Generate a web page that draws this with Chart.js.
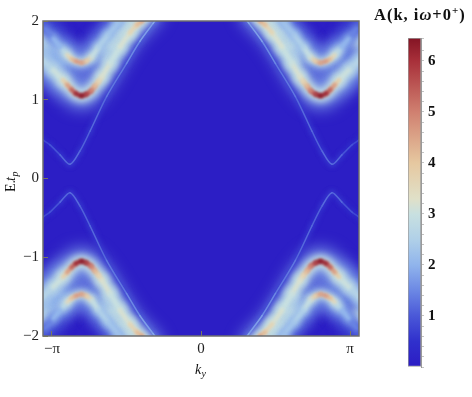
<!DOCTYPE html>
<html>
<head>
  <meta charset="UTF-8">
  <title>Spectral function</title>
  <script src="https://cdn.jsdelivr.net/npm/chart.js"></script>
  <style>
    body { margin: 0; background: #fff; }
    canvas { position: absolute; top: 0; }
    #map { left: 0; }
    #bar { left: 365px; }
  </style>
</head>
<body>
  <canvas id="map" width="365" height="397"></canvas>
  <canvas id="bar" width="107" height="397"></canvas>

  <script>
    // ridges of the upper left quadrant, the other three are mirrored
    const lowerK = [-3.5, -3.33, -3.12, -2.91, -2.82, -2.73, -2.64, -2.52, -2.42, -2.32, -2.24, -2.16, -2.09, -1.92, -1.71, -1.5, -1.35, -1.25, -1.1];
    const lowerE = [1.63, 1.5, 1.38, 1.25, 1.19, 1.13, 1.08, 1.05, 1.07, 1.11, 1.17, 1.23, 1.29, 1.46, 1.67, 1.85, 1.95, 2.0, 2.1];
    const lowerA = [2.4, 2.5, 2.7, 3.4, 4.2, 5.0, 5.8, 6.5, 6.2, 5.3, 4.5, 3.8, 3.4, 3.0, 3.0, 3.4, 3.9, 4.4, 4.6];

    const upperK = [-3.5, -3.29, -3.12, -2.91, -2.82, -2.73, -2.64, -2.52, -2.42, -2.31, -2.17, -1.96, -1.75, -1.6];
    const upperE = [2.1, 1.91, 1.78, 1.63, 1.57, 1.52, 1.49, 1.47, 1.49, 1.54, 1.66, 1.82, 1.97, 2.1];
    const upperA = [0.9, 1.2, 1.7, 2.4, 3.2, 3.9, 4.5, 4.8, 4.2, 3.3, 2.6, 2.4, 2.2, 2.2];

    const thinK = [-3.5, -3.33, -3.19, -2.97, -2.76, -2.55, -2.34, -1.99, -1.57, -1.29, -1.01, -0.85];
    const thinE = [0.6, 0.49, 0.43, 0.3, 0.18, 0.35, 0.6, 1.04, 1.46, 1.74, 1.97, 2.1];
    const thinA = [0.7, 0.75, 0.85, 1.0, 1.3, 1.1, 1.1, 1.25, 1.4, 1.6, 1.9, 1.9];

    // pale bands that join the two ridges on both sides of the arcs
    const rightArmK = [-2.0, -1.9, -1.63, -1.38];
    const rightArmE = [1.55, 1.7, 1.9, 2.1];
    const rightArmA = [1.8, 2.5, 2.8, 2.8];
    const leftArmK = [-3.5, -3.33, -3.12, -2.95];
    const leftArmE = [1.85, 1.72, 1.58, 1.46];
    const leftArmA = [2.6, 2.6, 2.4, 1.5];

    const yTicks = [-2, -1, 0, 1, 2];
    const xTicks = [-Math.PI, 0, Math.PI];
    const xLabels = ['−π', '0', 'π'];

    // colour scale
    const stopValues = [0, 0.5, 1, 1.5, 2, 2.5, 3, 3.3, 4, 5, 6, 6.45];
    const stopColors = ['#2c1cc4', '#3030cc', '#4a58d8', '#6c88e4', '#90b4ec', '#b0d0e8',
                        '#c8e0e0', '#e0e0c8', '#e6c8a0', '#d08070', '#a8303a', '#841424'];

    const serif = '"Liberation Serif", serif';

    function hexToRgb(h) {
      return [1, 3, 5].map(i => parseInt(h.substr(i, 2), 16));
    }

    function colorFor(v) {
      let i = 0;
      while (i < stopValues.length - 2 && v > stopValues[i + 1]) i++;
      const t = Math.min(1, Math.max(0, (v - stopValues[i]) / (stopValues[i + 1] - stopValues[i])));
      const a = hexToRgb(stopColors[i]), b = hexToRgb(stopColors[i + 1]);
      return 'rgb(' + a.map((c, n) => Math.round(c + (b[n] - c) * t)).join(',') + ')';
    }

    function segmentColor(values, scale) {
      return c => colorFor((values[c.p0DataIndex] + values[c.p1DataIndex]) / 2 * scale);
    }

    function ridge(ks, es, values, width, blur, scale, sx, sy) {
      return {
        data: ks.map((k, i) => ({ x: k * sx, y: es[i] * sy })),
        borderWidth: width,
        blur: blur,
        borderCapStyle: 'round',
        borderJoinStyle: 'round',
        pointRadius: 0,
        tension: 0.3,
        segment: { borderColor: segmentColor(values, scale) }
      };
    }

    const capped = (values, top) => values.map(a => Math.min(a, top));

    const datasets = [];
    const quadrants = [[1, 1], [-1, 1], [1, -1], [-1, -1]];
    // wide glow first, sharp core last
    quadrants.forEach(q => {
      datasets.push(ridge(lowerK, lowerE, capped(lowerA, 3), 26, 8, 0.55, q[0], q[1]));
      datasets.push(ridge(upperK, upperE, capped(upperA, 3), 20, 7, 0.55, q[0], q[1]));
    });
    quadrants.forEach(q => {
      datasets.push(ridge(rightArmK, rightArmE, rightArmA, 16, 5, 1, q[0], q[1]));
      datasets.push(ridge(leftArmK, leftArmE, leftArmA, 16, 5, 1, q[0], q[1]));
      datasets.push(ridge(thinK, thinE, thinA, 4, 2.5, 0.55, q[0], q[1]));
    });
    quadrants.forEach(q => {
      datasets.push(ridge(lowerK, lowerE, capped(lowerA, 3.2), 13, 3.5, 0.92, q[0], q[1]));
      datasets.push(ridge(upperK, upperE, capped(upperA, 3.2), 9, 3, 0.92, q[0], q[1]));
    });
    quadrants.forEach(q => {
      datasets.push(ridge(upperK, upperE, upperA, 4, 1.7, 1, q[0], q[1]));
      datasets.push(ridge(lowerK, lowerE, lowerA, 4.5, 1.7, 1, q[0], q[1]));
      datasets.push(ridge(thinK, thinE, thinA, 1.5, 0.7, 1, q[0], q[1]));
    });
    // Chart.js paints the first dataset last
    datasets.reverse();

    const blurPlugin = {
      id: 'blur',
      beforeDraw(chart) {
        const a = chart.chartArea, ctx = chart.ctx;
        ctx.fillStyle = colorFor(0.05);
        ctx.fillRect(a.left, a.top, a.right - a.left, a.bottom - a.top);
      },
      beforeDatasetDraw(chart, args) {
        chart.ctx.filter = 'blur(' + chart.data.datasets[args.index].blur + 'px)';
      },
      afterDatasetDraw(chart) {
        chart.ctx.filter = 'none';
      },
      afterDatasetsDraw(chart) {
        const a = chart.chartArea, ctx = chart.ctx;
        ctx.save();
        ctx.strokeStyle = '#6e6e6e';
        ctx.lineWidth = 1.5;
        ctx.strokeRect(a.left, a.top, a.right - a.left, a.bottom - a.top);
        ctx.restore();
      },
      afterDraw(chart) {
        // axis names with a subscript
        const ctx = chart.ctx;
        ctx.save();
        ctx.fillStyle = '#111';
        ctx.textBaseline = 'alphabetic';
        ctx.font = 'italic 14px ' + serif;
        ctx.fillText('k', 195, 374);
        ctx.font = 'italic 10px ' + serif;
        ctx.fillText('y', 201.5, 377);
        ctx.translate(15, 192);
        ctx.rotate(-Math.PI / 2);
        ctx.font = '14px ' + serif;
        ctx.fillText('E.', 0, 0);
        ctx.font = 'italic 14px ' + serif;
        ctx.fillText('t', 11, 0);
        ctx.font = 'italic 10px ' + serif;
        ctx.fillText('p', 15.5, 3);
        ctx.restore();
      }
    };

    new Chart(document.getElementById('map'), {
      type: 'line',
      data: { datasets: datasets },
      plugins: [blurPlugin],
      options: {
        responsive: false,
        animation: false,
        parsing: false,
        layout: { padding: { left: 0, top: 21, right: 6, bottom: 31 } },
        plugins: { legend: { display: false }, tooltip: { enabled: false } },
        scales: {
          x: {
            type: 'linear',
            min: -3.33,
            max: 3.33,
            afterFit: s => { s.height = 30; },
            afterBuildTicks: s => { s.ticks = xTicks.map(v => ({ value: v })); },
            border: { display: false },
            grid: { drawOnChartArea: false, tickLength: -5, tickColor: '#77775f', z: 1 },
            ticks: {
              autoSkip: false,
              maxRotation: 0,
              padding: 9,
              color: '#222',
              font: { family: serif, size: 15 },
              callback: v => xLabels[xTicks.indexOf(v)]
            }
          },
          y: {
            min: -2,
            max: 2,
            afterFit: s => { s.width = 43; },
            afterBuildTicks: s => { s.ticks = yTicks.map(v => ({ value: v })); },
            border: { display: false },
            grid: { drawOnChartArea: false, tickLength: -5, tickColor: '#77775f', z: 1 },
            ticks: {
              autoSkip: false,
              padding: 9,
              color: '#222',
              font: { family: serif, size: 15 },
              callback: v => String(v).replace('-', '−')
            }
          }
        }
      }
    });

    const barRange = [0, 6.45];

    // title of the colour bar, it hangs left of the bar and has a superscript
    const barTitlePlugin = {
      id: 'barTitle',
      afterDraw(chart) {
        const ctx = chart.ctx;
        ctx.save();
        ctx.fillStyle = '#111';
        ctx.textBaseline = 'alphabetic';
        ctx.letterSpacing = '1px';
        let x = 9;
        [['A(k, i', 'bold 16.5px ', 20], ['ω', 'bold italic 16.5px ', 20], ['+0', 'bold 16.5px ', 20],
         ['+', 'bold 11px ', 14], [')', 'bold 16.5px ', 20]].forEach(p => {
          ctx.font = p[1] + serif;
          ctx.fillText(p[0], x, p[2]);
          x += ctx.measureText(p[0]).width;
        });
        ctx.restore();
      }
    };

    new Chart(document.getElementById('bar'), {
      type: 'bar',
      data: {
        labels: ['A'],
        datasets: [{
          data: [barRange],
          barPercentage: 1,
          categoryPercentage: 1,
          borderColor: '#9a9a9a',
          borderWidth: 1,
          borderSkipped: false,
          backgroundColor: c => {
            const y = c.chart.scales.y;
            const y0 = y ? y.getPixelForValue(barRange[0]) : NaN;
            const y1 = y ? y.getPixelForValue(barRange[1]) : NaN;
            if (!isFinite(y0) || !isFinite(y1)) return stopColors[0];
            const g = c.chart.ctx.createLinearGradient(0, y0, 0, y1);
            stopValues.forEach((v, i) => g.addColorStop(v / barRange[1], stopColors[i]));
            return g;
          }
        }]
      },
      plugins: [barTitlePlugin],
      options: {
        responsive: false,
        animation: false,
        layout: { padding: { left: 43, top: 38, right: 0, bottom: 30 } },
        plugins: { legend: { display: false }, tooltip: { enabled: false } },
        scales: {
          x: { display: false },
          y: {
            position: 'right',
            min: barRange[0],
            max: barRange[1],
            afterFit: s => { s.width = 51; },
            border: { color: '#9a9a9a' },
            grid: {
              drawOnChartArea: false,
              tickLength: 3,
              tickColor: '#c4c4c4'
            },
            ticks: {
              stepSize: 0.2,
              autoSkip: false,
              padding: 4,
              color: '#111',
              font: { family: serif, size: 15, weight: 'bold' },
              callback: v => {
                const r = Math.round(v * 100) / 100;
                return Number.isInteger(r) && r > 0 ? String(r) : '';
              }
            }
          }
        }
      }
    });
  </script>
</body>
</html>
